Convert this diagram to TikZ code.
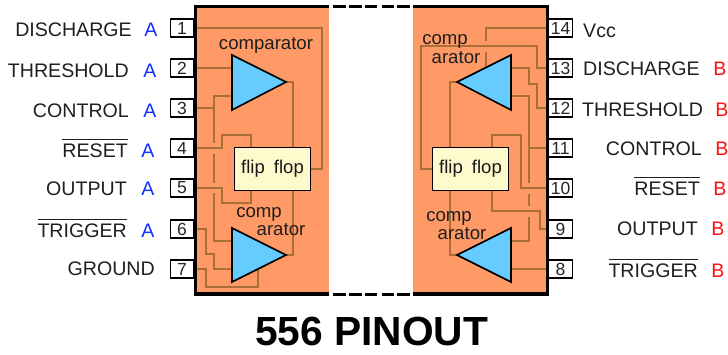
\documentclass[tikz,border=0pt]{standalone}
\usepackage{fontspec}
\setmainfont{Liberation Sans}
\definecolor{chiporange}{HTML}{FF9966}
\definecolor{wirebrown}{HTML}{A87038}
\definecolor{ampblue}{HTML}{66CCFF}
\definecolor{ffcream}{HTML}{FFFACD}
\definecolor{bluea}{HTML}{1030FF}
\definecolor{redb}{HTML}{FF1010}
\newcommand\ovl[1]{\leavevmode\vbox{\hrule height 1.1pt \kern 3.6pt \hbox{#1}}}
\tikzset{
  lbl/.style={anchor=base east,inner sep=0pt,font=\fontsize{19.6}{23}\selectfont,text=black!88},
  lblw/.style={anchor=base west,inner sep=0pt,font=\fontsize{19.6}{23}\selectfont,text=black!88},
  unita/.style={anchor=base,inner sep=0pt,font=\fontsize{19.6}{23}\selectfont,text=bluea},
  unitb/.style={anchor=base,inner sep=0pt,font=\fontsize{19.6}{23}\selectfont,text=redb},
  pinbox/.style={draw=black,line width=1.8pt,fill=white,minimum height=18.5pt,inner sep=0pt,font=\fontsize{17.5}{20}\selectfont,text=black!85},
  lpin/.style={pinbox,minimum width=23pt},
  rpin/.style={pinbox,minimum width=24pt},
  wire/.style={draw=wirebrown,line width=1.3pt,line join=miter},
  amp/.style={draw=black,line width=1.6pt,fill=ampblue,line join=miter},
  ffbox/.style={draw=black,line width=1.6pt,fill=ffcream,minimum width=76pt,minimum height=43pt,inner sep=0pt,font=\fontsize{18.5}{22}\selectfont,text=black!90},
  small/.style={inner sep=0pt,anchor=base,font=\fontsize{18.6}{21}\selectfont,text=black!88},
  outline/.style={draw=black,line width=3.2pt},
  gapdash/.style={draw=black,line width=3pt},
  title/.style={inner sep=0pt,anchor=base,font=\fontsize{40.7}{46}\selectfont\bfseries,text=black}
}
\begin{document}
\begin{tikzpicture}[x=1pt,y=-1pt]
\useasboundingbox (0,0) rectangle (728,354);
% chip bodies
\fill[chiporange] (196,7) rectangle (329,294);
\fill[chiporange] (413,7) rectangle (547,294);
% pins
\foreach \n/\y in {1/28,2/68,3/108,4/148,5/188,6/229,7/269}
  \node[lpin] (p\n) at (182,\y) {\n};
\foreach \n/\y in {14/28,13/68,12/108,11/148,10/188,9/229,8/269}
  \node[rpin] (p\n) at (560.5,\y) {\n};
% flip flops
\node[ffbox] (ffa) at (272.5,169) {flip\hspace{4pt} flop};
\node[ffbox] (ffb) at (470.5,169) {flip\hspace{4pt} flop};
% amplifier corners
\coordinate (a1t) at (232,55); \coordinate (a1b) at (232,110); \coordinate (a1o) at (286,82);
\coordinate (a2t) at (232,228); \coordinate (a2b) at (232,282); \coordinate (a2o) at (286,255);
\coordinate (b1t) at (511,55); \coordinate (b1b) at (511,110); \coordinate (b1o) at (457,82);
\coordinate (b2t) at (511,228); \coordinate (b2b) at (511,282); \coordinate (b2o) at (457,255);
% left wires
\draw[wire] (p1.east) -- (322,28) -- (322,169) -- (ffa.east);
\draw[wire] (p2.east) -- (232,68);
\draw[wire] (p3.east) -- (214,108);
\draw[wire] (232,96) -- (214,96) -- (214,143);
\draw[wire] (214,154) -- (214,183);
\draw[wire] (214,193) -- (214,241) -- (232,241);
\draw[wire] (p4.east) -- (222,148) -- (222,135) -- (251,135) -- (251,147);
\draw[wire] (p5.east) -- (222,188) -- (222,203) -- (251,203) -- (251,191);
\draw[wire] (a1o) -- (293,82) -- (293,147);
\draw[wire] (293,191) -- (293,255) -- (a2o);
\draw[wire] (p6.east) -- (206,229) -- (206,254) -- (214,254) -- (214,269) -- (232,269);
\draw[wire] (p7.east) -- (206,269) -- (206,287) -- (258,287) -- (258,268);
% right wires
\draw[wire] (p14.west) -- (486,28) -- (486,41);
\draw[wire] (486,52) -- (486,67);
\draw[wire] (p13.west) -- (537,68) -- (537,46) -- (421,46) -- (421,169) -- (ffb.west);
\draw[wire] (p12.west) -- (537,108) -- (537,84) -- (529,84) -- (529,68) -- (511,68);
\draw[wire] (511,96) -- (529,96) -- (529,183);
\draw[wire] (p11.west) -- (529,148);
\draw[wire] (529,194) -- (529,206);
\draw[wire] (529,217) -- (529,241) -- (511,241);
\draw[wire] (492,147) -- (492,135) -- (521,135) -- (521,188) -- (p10.west);
\draw[wire] (p9.west) -- (540,229) -- (540,211) -- (492,211) -- (492,191);
\draw[wire] (p8.west) -- (511,269);
\draw[wire] (b1o) -- (450,82) -- (450,147);
\draw[wire] (450,191) -- (450,255) -- (b2o);
% flip flops redrawn on top of the wire ends
\node[ffbox] at (ffa) {flip\hspace{4pt} flop};
\node[ffbox] at (ffb) {flip\hspace{4pt} flop};
% amplifiers
\draw[amp] (a1t) -- (a1o) -- (a1b) -- cycle;
\draw[amp] (a2t) -- (a2o) -- (a2b) -- cycle;
\draw[amp] (b1t) -- (b1o) -- (b1b) -- cycle;
\draw[amp] (b2t) -- (b2o) -- (b2b) -- cycle;
% outline
\draw[outline,line cap=butt] (329,6.5) -- (195.5,6.5) -- (195.5,294) -- (329,294);
\draw[outline,line cap=butt] (413,6.5) -- (547.5,6.5) -- (547.5,294) -- (413,294);
\foreach \a/\b in {333/346,349/362,365/377,382/394,397/410}{
  \draw[gapdash] (\a,6.5) -- (\b,6.5);
  \draw[gapdash] (\a,294) -- (\b,294);
}
% inner labels
\node[small] (ca) at (266,49) {comparator};
\node[small] (cb) at (259,217.5) {comp};
\node[small] (cc) at (281,235) {arator};
\node[small] (cd) at (445,44) {comp};
\node[small] (ce) at (456,63) {arator};
\node[small] (cf) at (449,221) {comp};
\node[small] (cg) at (462,239) {arator};
% left labels
\node[lbl] (l1) at (132,36) {DISCHARGE};
\node[lbl] (l2) at (129,77) {THRESHOLD};
\node[lbl] (l3) at (129,117) {CONTROL};
\node[lbl] (l4) at (128,157) {\ovl{RESET}};
\node[lbl] (l5) at (127,195) {OUTPUT};
\node[lbl] (l6) at (127,237) {\ovl{TRIGGER}};
\node[lbl] (l7) at (155,275) {GROUND};
\node[unita] (ua1) at (151,36) {A};
\node[unita] (ua2) at (150,77) {A};
\node[unita] (ua3) at (150,117) {A};
\node[unita] (ua4) at (148,157) {A};
\node[unita] (ua5) at (148,195) {A};
\node[unita] (ua6) at (148,237) {A};
% right labels
\node[lblw] (r14) at (583,37) {Vcc};
\node[lblw] (r13) at (583,75) {DISCHARGE};
\node[lblw] (r12) at (582,116) {THRESHOLD};
\node[lbl] (r11) at (702,155) {CONTROL};
\node[lbl] (r10) at (700,195) {\ovl{RESET}};
\node[lbl] (r9) at (698,235) {OUTPUT};
\node[lbl] (r8) at (698,277) {\ovl{TRIGGER}};
\node[unitb] (ub1) at (720,75) {B};
\node[unitb] (ub2) at (722,116) {B};
\node[unitb] (ub3) at (722,155) {B};
\node[unitb] (ub4) at (720,195) {B};
\node[unitb] (ub5) at (718,235) {B};
\node[unitb] (ub6) at (718,277) {B};
% title
\node[title] (t) at (371.5,345.5) {556 PINOUT};
\end{tikzpicture}
\end{document}
